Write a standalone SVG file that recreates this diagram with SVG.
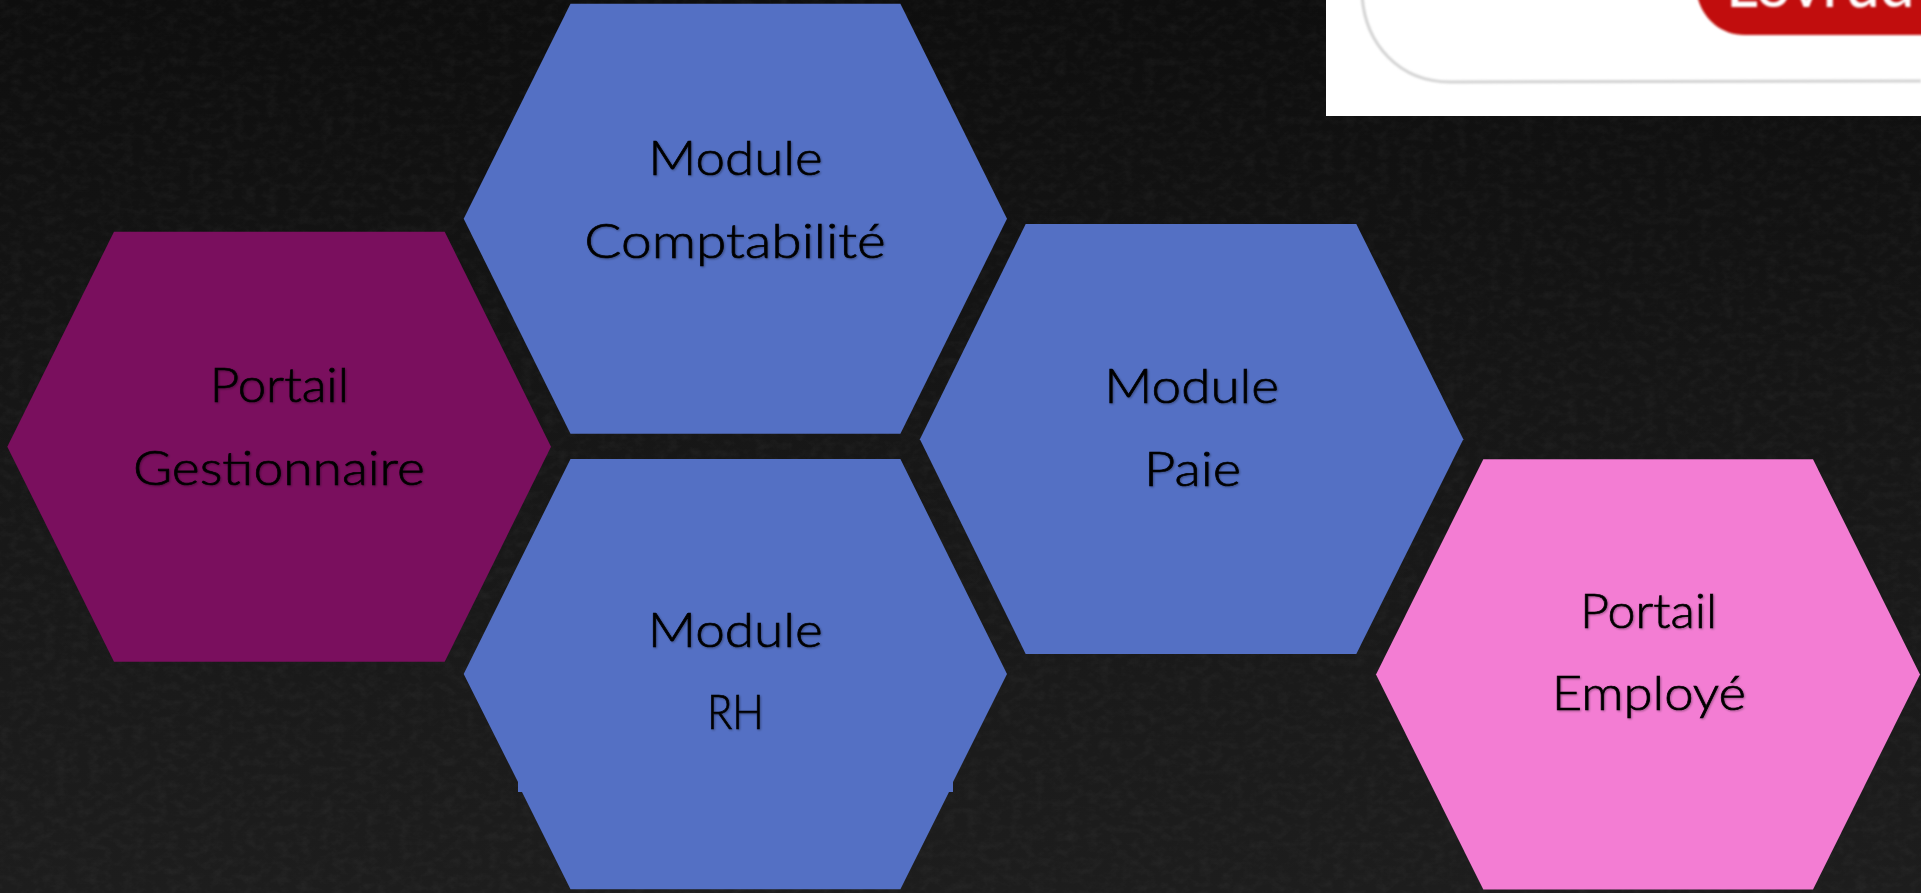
<svg xmlns="http://www.w3.org/2000/svg" width="1921" height="893" viewBox="0 0 1921 893">
<style>
.hex{stroke:none}
.blue{fill:#5470c4}
.t{font-family:"Lato","Open Sans","Liberation Sans",sans-serif;font-size:48px;font-weight:300;fill:#000;stroke:#000;stroke-width:.7px;filter:url(#ts)}
</style>
<defs>
<linearGradient id="bg" x1="0" y1="0" x2="0" y2="1"><stop offset="0" stop-color="#0e0e0e"/><stop offset=".45" stop-color="#161616"/><stop offset="1" stop-color="#1d1d1d"/></linearGradient>
<filter id="noise" x="0" y="0" width="100%" height="100%"><feTurbulence type="fractalNoise" baseFrequency=".09 .12" numOctaves="5" seed="11"/><feColorMatrix values="0 0 0 0 .55 0 0 0 0 .55 0 0 0 0 .55 .6 0 0 0 -.24"/></filter>
<filter id="ts" x="-5%" y="-20%" width="110%" height="140%"><feDropShadow dx="1" dy="1" stdDeviation="1.2" flood-color="#000" flood-opacity=".35"/></filter>
<filter id="soft" x="-5%" y="-20%" width="110%" height="140%"><feGaussianBlur stdDeviation=".9"/></filter>
</defs>
<g id="background">
<rect width="1921" height="893" fill="url(#bg)"/>
<rect width="1921" height="893" filter="url(#noise)" opacity=".16"/>
</g>
<g id="photo-fragment">
<rect x="1326" y="0" width="595" height="116" fill="#fff"/>
<path d="M1362-5C1365 45 1400 82 1450 82L1921 81" fill="none" stroke="#d2d2d2" stroke-width="3" filter="url(#soft)"/>
<path d="M1697-5C1702 18 1720 35 1745 35H1925V-5Z" fill="#c10f08" filter="url(#soft)"/>
<text x="1726" y="6.5" font-family="Lato,sans-serif" font-size="62" font-weight="500" fill="#fff" filter="url(#soft)">Lovrud</text>
</g>
<g id="connectors"></g>
<g id="portail-gestionnaire">
<polygon class="hex" fill="#7a0f5e" points="7.3,446.7 114,231.7 444.7,231.7 551,446.7 444.7,661.7 114,661.7"/>
<text class="t" x="209.7" y="402.3" textLength="139.3" lengthAdjust="spacingAndGlyphs">Portail</text>
<text class="t" x="133" y="485.3" textLength="291.8" lengthAdjust="spacingAndGlyphs">Gestionnaire</text>
</g>
<g id="module-comptabilite">
<polygon class="hex blue" points="463.7,218.7 570.5,3.7 900.4,3.7 1007,218.7 900.4,433.7 570.5,433.7"/>
<text class="t" x="648.3" y="174.8" textLength="174.4" lengthAdjust="spacingAndGlyphs">Module</text>
<text class="t" x="584.3" y="258" textLength="301.4" lengthAdjust="spacingAndGlyphs">Comptabilité</text>
</g>
<g id="module-rh">
<path class="hex blue" d="M463.7 674L570.5 459H900.4L1007 674L953 782V792H949L900.4 889.3H570.5L522 792H518V782Z"/>
<text class="t" x="647.8" y="646.7" textLength="174.9" lengthAdjust="spacingAndGlyphs">Module</text>
<text class="t" x="707" y="729.3" textLength="56.8" lengthAdjust="spacingAndGlyphs">RH</text>
</g>
<g id="module-paie">
<polygon class="hex blue" points="919.9,439.3 1025.7,224 1356.3,224 1463.3,439.3 1356.3,654 1025.7,654"/>
<text class="t" x="1104.3" y="402.7" textLength="174.7" lengthAdjust="spacingAndGlyphs">Module</text>
<text class="t" x="1144" y="485.7" textLength="97" lengthAdjust="spacingAndGlyphs">Paie</text>
</g>
<g id="portail-employe">
<polygon class="hex" fill="#f37dd3" points="1376,674.4 1483.3,459.3 1813,459.3 1920,674.4 1813,889.4 1483.3,889.4"/>
<text class="t" x="1580" y="627.7" textLength="137" lengthAdjust="spacingAndGlyphs">Portail</text>
<text class="t" x="1551.7" y="710" textLength="194.3" lengthAdjust="spacingAndGlyphs">Employé</text>
</g>
</svg>
